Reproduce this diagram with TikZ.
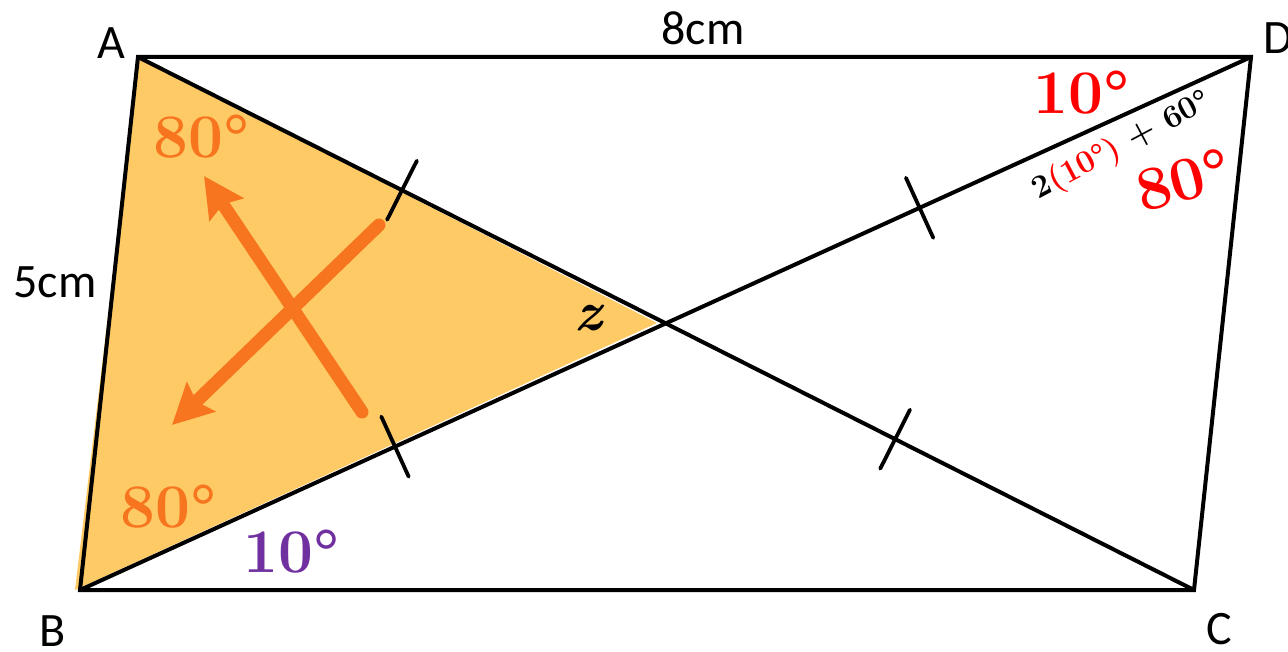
\documentclass[tikz,border=0pt]{standalone}
\usepackage{fontspec}
\newfontfamily\carlito{Carlito}
\usetikzlibrary{calc,arrows.meta}
\definecolor{fillor}{RGB}{254,202,102}
\definecolor{orangeb}{RGB}{247,117,30}
\definecolor{purp}{RGB}{112,48,160}
\tikzset{
  lbl/.style={font=\carlito\fontsize{48}{48}\selectfont, inner sep=0pt},
  ang/.style={font=\bfseries\fontsize{62}{62}\selectfont, inner sep=0pt, anchor=base west},
  edge/.style={line width=4pt},
  tickmark/.style={line width=3.8pt, line cap=round},
  arr/.style={orangeb, line width=13pt, line cap=round, -{Stealth[length=40pt,width=40pt,inset=6pt]}}
}
\begin{document}
\begin{tikzpicture}[x=1pt,y=-1pt]
\useasboundingbox (0,0) rectangle (1288,652);
\coordinate (A) at (138,57);
\coordinate (D) at (1251,57);
\coordinate (B) at (80,590);
\coordinate (C) at (1194,590);
% shaded triangle
\fill[fillor] (139,58) -- (657,323) -- (75,590) -- cycle;
% arrows
\coordinate (a1s) at (362,412);
\coordinate (a1e) at (204,176);
\coordinate (a2s) at (379,225);
\coordinate (a2e) at (172,425);
\draw[arr] (a1s) -- (a1e);
\draw[arr] (a2s) -- (a2e);
% edges
\draw[edge] (A) -- (D) -- (C) -- (B) -- cycle;
\draw[edge] (A) -- (C);
\draw[edge] (B) -- (D);
% ticks
\path (A) -- (C) coordinate[pos=0.25] (t1) coordinate[pos=0.717] (t2);
\path (B) -- (D) coordinate[pos=0.269] (t3) coordinate[pos=0.717] (t4);
\foreach \t/\e in {t1/C, t2/C, t3/D, t4/D}
  \draw[tickmark] ($(\t)!33pt!90:(\e)$) -- ($(\t)!33pt!-90:(\e)$);
% vertex and side labels
\node[lbl] (lA) at (111,43) {A};
\node[lbl] (lB) at (53,631) {B};
\node[lbl] (lC) at (1219,629) {C};
\node[lbl, anchor=west] (lD) at (1263,38) {D};
\node[lbl] (l8) at (703,28) {8cm};
\node[lbl] (l5) at (55,282) {5cm};
% angle labels
\node[ang, orangeb] (aA) at (153,158) {80°};
\node[ang, orangeb] (aB) at (120,527) {80°};
\node[ang, purp] (aP) at (243,572) {10°};
\node[ang, red] (aD1) at (1033,114) {10°};
\node[font=\bfseries\fontsize{62}{62}\selectfont, inner sep=0pt, red, rotate=15] (aD2) at (1183,180) {80°};
\node[font=\bfseries\fontsize{32}{32}\selectfont, inner sep=0pt, rotate=28] (expr) at (1122,146) {2\textcolor{red}{(10°)} + 60°};
\node[font=\bfseries\itshape\fontsize{56}{56}\selectfont, inner sep=0pt] (z) at (588,318) {z};
\end{tikzpicture}
\end{document}
